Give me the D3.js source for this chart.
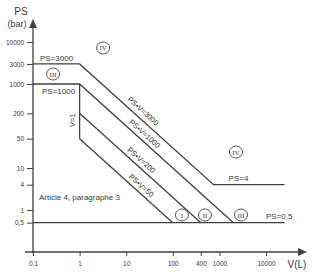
<!DOCTYPE html>
<html><head><meta charset="utf-8">
<script src="https://cdn.jsdelivr.net/npm/d3@7/dist/d3.min.js"></script>
<style>body{margin:0;background:#fff}svg{display:block}text{font-family:"Liberation Sans",Arial,sans-serif;fill:#3a3a3a}</style>
</head><body><svg id="c" width="320" height="275"></svg>
<script>
const xTicks = [0.1, 1, 10, 100, 400, 1000, 10000];
const xTickLabels = ["0,1", "1", "10", "100", "400", "1000", "10000"];
const yTicks = [0.5, 1, 4, 10, 50, 200, 1000, 3000, 10000];
const yTickLabels = ["0,5", "1", "4", "10", "50", "200", "1000", "3000", "10000"];

// boundary lines as [V (L), PS (bar)]
const line3000 = [[0.1, 3000], [1, 3000], [750, 4], [25000, 4]];
const line1000 = [[0.1, 1000], [1, 1000], [2000, 0.5]];
const lineV1 = [[1, 1000], [1, 50]];
const line200 = [[1, 200], [400, 0.5]];
const line50 = [[1, 50], [100, 0.5]];
const line05 = [[0.1, 0.5], [25000, 0.5]];

const diagLabels = ["PS•V=3000", "PS•V=1000", "PS•V=200", "PS•V=50"];
const diagProducts = [3000, 1000, 200, 50];
const diagAt = [18, 20, 17, 17];

const zoneNames = ["IV", "III", "IV", "I", "II", "III"];
const zoneV = [3.2, 0.27, 2270, 157, 490, 2910];
const zonePS = [7200, 1730, 24, 0.76, 0.76, 0.76];

const svg = d3.select("#c");
const x = d3.scaleLog().domain([0.1, 10000]).range([33, 266]);
const y = d3.scaleLog().domain([0.1, 10000]).range([252, 42]);
const ink = "#404040";

// axes
const yAxis = d3.axisLeft(y).tickValues(yTicks).tickFormat((d, i) => yTickLabels[i]).tickSize(6).tickPadding(3);
const gy = svg.append("g").attr("transform", `translate(${x(0.1)},0)`).call(yAxis);
gy.select(".domain").remove();
gy.selectAll("line").attr("stroke", ink);
gy.selectAll("text").style("font-size", "6.5px").attr("fill", "#444");

const xAxis = d3.axisBottom(x).tickValues(xTicks).tickFormat((d, i) => xTickLabels[i]).tickSize(4).tickPadding(5);
const gx = svg.append("g").attr("transform", `translate(0,${y(0.1)})`).call(xAxis);
gx.select(".domain").remove();
gx.selectAll("line").attr("stroke", ink);
gx.selectAll("text").style("font-size", "6.5px").attr("fill", "#444");

// axis lines with arrows
svg.append("line").attr("x1", x(0.1)).attr("x2", x(0.1)).attr("y1", y(0.1) + 1).attr("y2", 26).attr("stroke", ink).attr("stroke-width", 1.3);
svg.append("path").attr("d", `M${x(0.1)},19 L${x(0.1) - 4},28 L${x(0.1) + 4},28 Z`).attr("fill", ink);
svg.append("line").attr("x1", 25).attr("x2", 300).attr("y1", y(0.1)).attr("y2", y(0.1)).attr("stroke", ink).attr("stroke-width", 1.3);
svg.append("path").attr("d", `M307,${y(0.1)} L298,${y(0.1) - 4} L298,${y(0.1) + 4} Z`).attr("fill", ink);

svg.append("text").attr("x", 21).attr("y", 15).attr("text-anchor", "middle").style("font-size", "10px").text("PS");
svg.append("text").attr("x", 17).attr("y", 27).attr("text-anchor", "middle").style("font-size", "9px").text("(bar)");
svg.append("text").attr("x", 297).attr("y", 268).attr("text-anchor", "middle").style("font-size", "10px").text("V(L)");

// boundary lines
const lg = d3.line().x(d => x(d[0])).y(d => y(d[1]));
[line3000, line1000, lineV1, line200, line50, line05].forEach(pts => {
  svg.append("path").attr("d", lg(pts)).attr("fill", "none").attr("stroke", ink).attr("stroke-width", 1.3);
});

// horizontal labels
const lab = (tx, ty, t, size, anchor) => svg.append("text").attr("x", tx).attr("y", ty)
  .attr("text-anchor", anchor || "start").style("font-size", size + "px").text(t);
lab(x(0.1) + 7, y(3000) - 3, "PS=3000", 8);
lab(x(0.1) + 9, y(1000) + 10, "PS=1000", 8);
lab(x(750) + 15, y(4) - 4, "PS=4", 8);
lab(x(10000) + 0, y(0.5) - 4, "PS=0,5", 8);
lab(39, 200, "Article 4, paragraphe 3", 8);
svg.append("text").attr("transform", `translate(${x(1) - 5},${(y(1000) + y(50)) / 2 + 9}) rotate(-90)`)
  .attr("text-anchor", "middle").style("font-size", "7.5px").text("V=1");

// diagonal labels
const ang = Math.atan2(y(1) - y(10), x(10) - x(1)) * 180 / Math.PI;
diagLabels.forEach((t, i) => {
  const V = diagAt[i], P = diagProducts[i] / V;
  svg.append("text")
    .attr("transform", `translate(${x(V)},${y(P)}) rotate(${ang})`)
    .attr("text-anchor", "middle").attr("dy", i === 0 ? -5 : -4)
    .style("font-size", "7.5px").text(t);
});

// zone markers
zoneNames.forEach((n, i) => {
  const cx = x(zoneV[i]), cy = y(zonePS[i]);
  svg.append("ellipse").attr("cx", cx).attr("cy", cy).attr("rx", 6.5).attr("ry", 6)
    .attr("fill", "none").attr("stroke", ink).attr("stroke-width", 0.9);
  svg.append("text").attr("x", cx).attr("y", cy + 2.5).attr("text-anchor", "middle")
    .style("font-size", "7px").style("font-family", "'Liberation Serif',serif").text(n);
});
</script></body></html>
